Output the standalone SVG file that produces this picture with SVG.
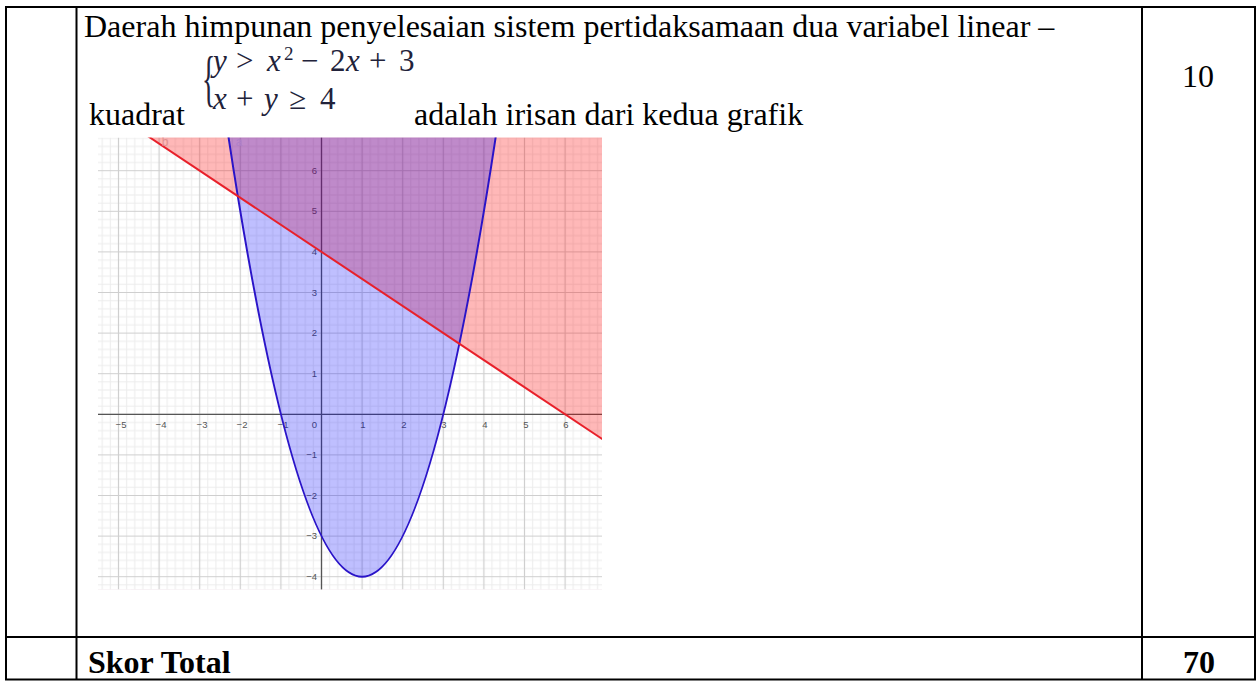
<svg xmlns="http://www.w3.org/2000/svg" width="1258" height="681" viewBox="0 0 1258 681">
<style>
.t{font-family:"Liberation Serif","Times New Roman",serif;font-size:32px;fill:#000}
.b{font-weight:bold}
.m{font-family:"Liberation Serif","Times New Roman",serif;font-size:31px;fill:#22223a}
.i{font-style:italic}
.ax{font-family:"Liberation Sans",Arial,sans-serif;font-size:9.5px;fill:#555}
.tbl{stroke:#000;stroke-width:2;fill:none}
</style>
<defs>
<clipPath id="gc"><rect x="98" y="137.5" width="504" height="452"/></clipPath>
<pattern id="grid" patternUnits="userSpaceOnUse" x="301.2" y="394" width="40.6" height="40.6">
<g stroke="#ececec" stroke-width="1">
<line x1="4.06" y1="0" x2="4.06" y2="40.6"/><line x1="12.18" y1="0" x2="12.18" y2="40.6"/><line x1="28.42" y1="0" x2="28.42" y2="40.6"/><line x1="36.54" y1="0" x2="36.54" y2="40.6"/>
<line y1="4.06" x1="0" y2="4.06" x2="40.6"/><line y1="12.18" x1="0" y2="12.18" x2="40.6"/><line y1="28.42" x1="0" y2="28.42" x2="40.6"/><line y1="36.54" x1="0" y2="36.54" x2="40.6"/>
</g>
<g stroke="#cfcfcf" stroke-width="1.2">
<line x1="20.3" y1="0" x2="20.3" y2="40.6"/><line y1="20.3" x1="0" y2="20.3" x2="40.6"/>
</g>
</pattern>
</defs>
<rect width="1258" height="681" fill="#fff"/>
<g id="table">
<rect class="tbl" x="6" y="7" width="1249" height="672.5"/>
<line class="tbl" x1="76.5" y1="7" x2="76.5" y2="679.5"/>
<line class="tbl" x1="1142" y1="7" x2="1142" y2="679.5"/>
<line class="tbl" x1="6" y1="637" x2="1255" y2="637"/>
</g>
<g id="texts">
<text class="t" x="84" y="37">Daerah himpunan penyelesaian sistem pertidaksamaan dua variabel linear –</text>
<text class="t" x="89" y="125">kuadrat</text>
<text class="t" x="414" y="125">adalah irisan dari kedua grafik</text>
<text class="t" x="1198" y="87" text-anchor="middle">10</text>
<text class="t b" x="88" y="673">Skor Total</text>
<text class="t b" x="1199" y="673" text-anchor="middle">70</text>
</g>
<g id="formula">
<text class="m" transform="translate(202,99) scale(0.45,1)" style="font-size:62px">{</text>
<text class="m" y="71"><tspan class="i" x="213">y</tspan><tspan x="236">&gt;</tspan><tspan class="i" x="267">x</tspan><tspan x="284" y="60" style="font-size:19px">2</tspan><tspan x="301" y="71">−</tspan><tspan x="330">2</tspan><tspan class="i" x="346">x</tspan><tspan x="369">+</tspan><tspan x="399">3</tspan></text>
<text class="m" y="109"><tspan class="i" x="213">x</tspan><tspan x="236">+</tspan><tspan class="i" x="264">y</tspan><tspan x="289">≥</tspan><tspan x="320">4</tspan></text>
</g>
<g id="graph" clip-path="url(#gc)">
<rect x="98" y="137.5" width="504" height="452" fill="#fff"/>
<rect x="98" y="137.5" width="504" height="452" fill="url(#grid)"/>
<line x1="98" y1="414.3" x2="602" y2="414.3" stroke="#555" stroke-width="1.3"/>
<line x1="321.5" y1="137.5" x2="321.5" y2="590" stroke="#555" stroke-width="1.3"/>
<g class="ax" text-anchor="middle">
<text x="121" y="428">−5</text><text x="161" y="428">−4</text><text x="202" y="428">−3</text><text x="242" y="428">−2</text><text x="283" y="428">−1</text>
<text x="363" y="428">1</text><text x="404" y="428">2</text><text x="444" y="428">3</text><text x="485" y="428">4</text><text x="526" y="428">5</text><text x="566" y="428">6</text>
</g>
<g class="ax" text-anchor="end">
<text x="317" y="174">6</text><text x="317" y="214">5</text><text x="317" y="255">4</text><text x="317" y="296">3</text><text x="317" y="336">2</text><text x="317" y="377">1</text><text x="317" y="428">0</text>
<text x="317" y="458">−1</text><text x="317" y="499">−2</text><text x="317" y="539">−3</text><text x="317" y="580">−4</text>
</g>
<polygon points="77.9,89.5 646.3,468.4 646.3,100 77.9,100" fill="#ff0000" fill-opacity="0.28"/>
<path d="M220,79.35 Q362.1,1074.05 504.2,79.35 Z" fill="#0000ff" fill-opacity="0.25"/>
<path d="M220,79.35 Q362.1,1074.05 504.2,79.35" fill="none" stroke="#2a14c8" stroke-width="2"/>
<line x1="77.9" y1="89.5" x2="646.3" y2="468.4" stroke="#e8202a" stroke-width="2"/>
<text x="165" y="146" font-family="Liberation Sans,Arial,sans-serif" font-size="12" fill="#e09090" text-anchor="middle">b</text>
<text x="239" y="146" font-family="Liberation Sans,Arial,sans-serif" font-size="12" fill="#b080c8" text-anchor="middle">a</text>
<rect x="98" y="589.5" width="504" height="3" fill="#e6d8de"/>
<rect x="131" y="589.5" width="39" height="3" fill="#f2eaee"/>
</g>
</svg>
